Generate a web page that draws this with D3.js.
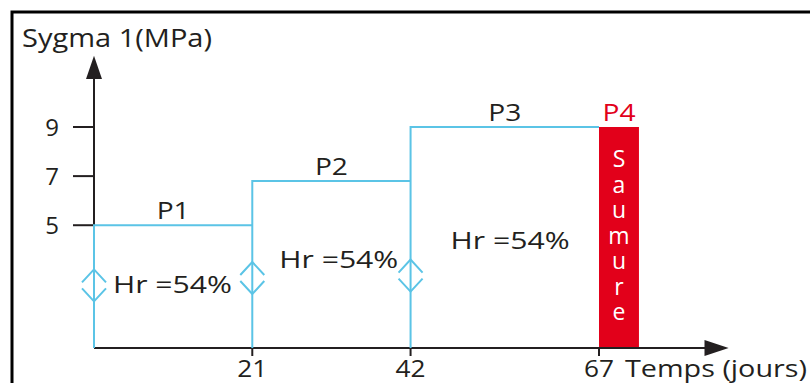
<!DOCTYPE html>
<html><head><meta charset="utf-8">
<script src="https://cdn.jsdelivr.net/npm/d3@7"></script>
<style>body{margin:0;background:#fff}svg{display:block}text{font-family:"Open Sans",sans-serif;fill:#231f20}</style>
</head><body><svg id="c" width="810" height="383"></svg>
<script>
// ---- data ----
const phases = ["P1", "P2", "P3", "P4"];
const phaseStart = [0, 21, 42, 67];
const phaseEnd = [21, 42, 67, 72.3];
const stress = [5, 6.8, 9, 9];
const hrLabels = ["Hr =54%", "Hr =54%", "Hr =54%"];
const hrLevel = [2.25, 3.25, 4.05];
const markerLevel = [2.55, 2.85, 2.95];
const yTicks = [5, 7, 9];
const xTicks = [21, 42, 67];
const saumure = "Saumure";
const xTitle = "Temps (jours)";
const yTitle = "Sygma 1(MPa)";

const svg = d3.select("#c");
const x = d3.scaleLinear().domain([0, 67]).range([94, 599]);
const y = d3.scaleLinear().domain([0, 9]).range([348, 127]);
const blue = "#5bc4e6", red = "#e2001a", ink = "#231f20";

// frame
svg.append("path").attr("d", "M12,383V12H810").attr("fill", "none").attr("stroke", "#000").attr("stroke-width", 3);

// P4 bar
svg.append("rect").attr("x", x(67)).attr("y", y(9)).attr("width", x(phaseEnd[3]) - x(67)).attr("height", y(0) - y(9)).attr("fill", red);
const cx = (x(67) + x(phaseEnd[3])) / 2;
svg.append("text").attr("x", cx).attr("y", 142)
  .style("writing-mode", "vertical-rl").style("text-orientation", "upright")
  .style("letter-spacing", "-6.5px").style("font-size", "23px").style("fill", "#fff").text(saumure);

// axes
const axis = svg.append("g").attr("stroke", ink).attr("stroke-width", 2).attr("fill", "none");
axis.append("line").attr("x1", x(0)).attr("y1", y(0)).attr("x2", x(83)).attr("y2", y(0));
axis.append("line").attr("x1", x(0)).attr("y1", y(0)).attr("x2", x(0)).attr("y2", y(11.3));
svg.append("path").attr("d", `M${x(0)},${y(11.9)}L${x(0) - 8},${y(10.95)}L${x(0) + 8},${y(10.95)}Z`).attr("fill", ink);
svg.append("path").attr("d", `M${x(84.2)},${y(0)}L${x(81)},${y(0) - 8}L${x(81)},${y(0) + 8}Z`).attr("fill", ink);
// y ticks
axis.selectAll("line.yt").data(yTicks).join("line").attr("x1", x(0) - 21).attr("x2", x(0)).attr("y1", d => y(d)).attr("y2", d => y(d));
svg.selectAll("text.yl").data(yTicks).join("text").attr("x", 59).attr("y", d => y(d) + 9).attr("text-anchor", "end").style("font-size", "24px").text(d => d);
// x ticks
axis.selectAll("line.xt").data(xTicks).join("line").attr("x1", d => x(d)).attr("x2", d => x(d)).attr("y1", y(0)).attr("y2", y(0) + 8);
svg.selectAll("text.xl").data(xTicks).join("text").attr("x", d => x(d)).attr("y", 377).attr("text-anchor", "middle")
  .attr("textLength", 30).attr("lengthAdjust", "spacingAndGlyphs").style("font-size", "24px").text(d => d);
svg.append("text").attr("x", x(67) + 26).attr("y", 377).attr("textLength", 182).attr("lengthAdjust", "spacingAndGlyphs").style("font-size", "24px").text(xTitle);
svg.append("text").attr("x", 22).attr("y", 47).attr("textLength", 190).attr("lengthAdjust", "spacingAndGlyphs").style("font-size", "25px").text(yTitle);

// stress path
const pts = [];
for (let i = 0; i < 3; i++) {
  pts.push(`M${x(phaseStart[i])},${y(0)}V${y(stress[i])}H${x(phaseEnd[i])}`);
}
pts.push(`M${x(phaseStart[1])},${y(stress[1]) + 4}V${y(stress[1])}`);
svg.append("path").attr("d", pts.join("")).attr("fill", "none").attr("stroke", blue).attr("stroke-width", 2);

// markers
svg.selectAll("path.mk").data(markerLevel).join("path").attr("class", "mk")
  .attr("d", (d, i) => { const cx = x(phaseStart[i]), cy = y(d); return `M${cx - 12},${cy - 3}L${cx},${cy - 16}L${cx + 12},${cy - 3}M${cx - 12},${cy + 3}L${cx},${cy + 16}L${cx + 12},${cy + 3}`; })
  .attr("fill", "none").attr("stroke", blue).attr("stroke-width", 2);

// phase labels
svg.selectAll("text.pl").data(phases).join("text").attr("class", "pl")
  .attr("x", (d, i) => (x(phaseStart[i]) + x(phaseEnd[i])) / 2).attr("y", (d, i) => y(stress[i]) - 6)
  .attr("text-anchor", "middle").attr("textLength", 33).attr("lengthAdjust", "spacingAndGlyphs")
  .style("font-size", "23px").style("fill", (d, i) => i === 3 ? red : ink).text(d => d);

// Hr labels
svg.selectAll("text.hr").data(hrLabels).join("text").attr("class", "hr")
  .attr("x", (d, i) => x(phaseStart[i]) + [19, 27, 40][i]).attr("y", (d, i) => y(hrLevel[i]))
  .attr("textLength", 119).attr("lengthAdjust", "spacingAndGlyphs").style("font-size", "24px").text(d => d);
</script></body></html>
